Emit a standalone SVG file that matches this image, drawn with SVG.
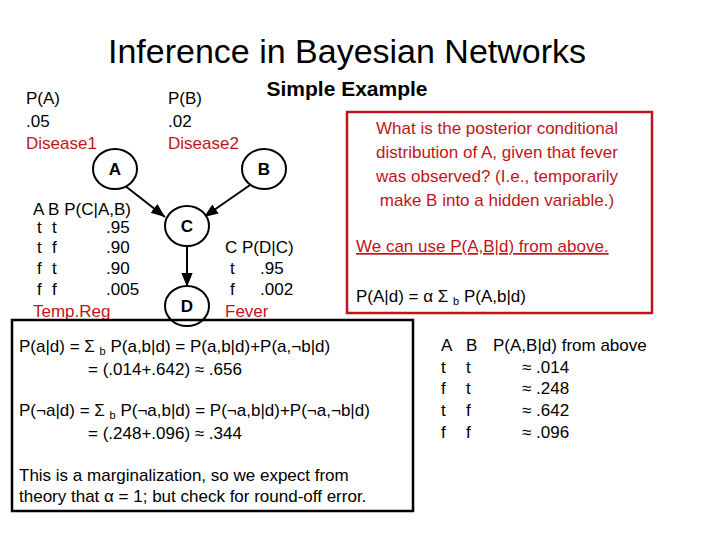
<svg xmlns="http://www.w3.org/2000/svg" width="720" height="540" viewBox="0 0 720 540">
<defs><marker id="ah" viewBox="0 0 10 10" refX="10" refY="5" markerWidth="7" markerHeight="7" orient="auto"><path d="M0,1 L10,5 L0,9 z" fill="#000"/></marker></defs>
<style>
text{font-family:"Liberation Sans",Arial,sans-serif;font-size:17px;fill:#000}
.r{fill:#c0141c}
.n ellipse{fill:#fff;stroke:#000;stroke-width:2}
.n text{font-weight:bold;text-anchor:middle}
.e{stroke:#000;stroke-width:2;fill:none;marker-end:url(#ah)}
.s{font-size:11px}
</style>
<rect width="720" height="540" fill="#fff"/>
<text x="347" y="63" style="font-size:34px" text-anchor="middle">Inference in Bayesian Networks</text>
<text x="347" y="96" style="font-size:21px" font-weight="bold" text-anchor="middle">Simple Example</text>
<text x="26" y="104">P(A)</text><text x="26" y="127">.05</text><text class="r" x="26" y="149">Disease1</text>
<text x="168" y="104">P(B)</text><text x="168" y="127">.02</text><text class="r" x="168" y="149">Disease2</text>
<g id="connectors">
<line class="e" x1="124" y1="185" x2="165" y2="217"/>
<line class="e" x1="253" y1="183" x2="204" y2="217"/>
<line class="e" x1="187" y1="246" x2="187" y2="287"/>
</g>
<g id="A" class="n"><ellipse cx="115" cy="169" rx="22" ry="20"/><text x="115" y="175">A</text></g>
<g id="B" class="n"><ellipse cx="264" cy="169" rx="22" ry="20"/><text x="264" y="175">B</text></g>
<g id="C" class="n"><ellipse cx="187" cy="226" rx="22" ry="20"/><text x="187" y="232">C</text></g>
<g id="D" class="n"><ellipse cx="187" cy="306" rx="22" ry="20"/><text x="187" y="312">D</text></g>
<text x="33" y="215">A B P(C|A,B)</text>
<text x="37" y="233">t</text><text x="52" y="233">t</text><text x="106" y="233">.95</text>
<text x="37" y="253">t</text><text x="52" y="253">f</text><text x="106" y="253">.90</text>
<text x="37" y="274">f</text><text x="52" y="274">t</text><text x="106" y="274">.90</text>
<text x="37" y="295">f</text><text x="52" y="295">f</text><text x="106" y="295">.005</text>
<text class="r" x="33" y="317">Temp.Reg</text>
<text x="225" y="253">C P(D|C)</text>
<text x="230" y="274">t</text><text x="260" y="274">.95</text>
<text x="230" y="295">f</text><text x="260" y="295">.002</text>
<text class="r" x="225" y="317">Fever</text>
<rect x="347" y="112" width="305" height="201" fill="none" stroke="#c0141c" stroke-width="2.5"/>
<text class="r" x="497" y="134" text-anchor="middle">What is the posterior conditional</text>
<text class="r" x="497" y="158" text-anchor="middle">distribution of A, given that fever</text>
<text class="r" x="497" y="182" text-anchor="middle">was observed? (I.e., temporarily</text>
<text class="r" x="497" y="206" text-anchor="middle">make B into a hidden variable.)</text>
<text class="r" x="356" y="252" text-decoration="underline">We can use P(A,B|d) from above.</text>
<text x="356" y="302">P(A|d) = α Σ <tspan class="s" dy="3">b</tspan><tspan dy="-3">  P(A,b|d)</tspan></text>
<rect x="12" y="320" width="401" height="191" fill="none" stroke="#000" stroke-width="2.5"/>
<text x="19" y="352">P(a|d) = Σ <tspan class="s" dy="3">b</tspan><tspan dy="-3"> P(a,b|d) = P(a,b|d)+P(a,¬b|d)</tspan></text>
<text x="88" y="375">= (.014+.642)  ≈ .656</text>
<text x="19" y="416">P(¬a|d) = Σ <tspan class="s" dy="3">b</tspan><tspan dy="-3"> P(¬a,b|d) = P(¬a,b|d)+P(¬a,¬b|d)</tspan></text>
<text x="88" y="439">= (.248+.096) ≈ .344</text>
<text x="19" y="481">This is a marginalization, so we expect from</text>
<text x="19" y="502">theory that α = 1; but check for round-off error.</text>
<text x="441" y="351">A</text><text x="466" y="351">B</text><text x="493" y="351">P(A,B|d) from above</text>
<text x="441" y="373">t</text><text x="466" y="373">t</text><text x="522" y="373">≈ .014</text>
<text x="441" y="394">f</text><text x="466" y="394">t</text><text x="522" y="394">≈ .248</text>
<text x="441" y="416">t</text><text x="466" y="416">f</text><text x="522" y="416">≈ .642</text>
<text x="441" y="438">f</text><text x="466" y="438">f</text><text x="522" y="438">≈ .096</text>
</svg>
